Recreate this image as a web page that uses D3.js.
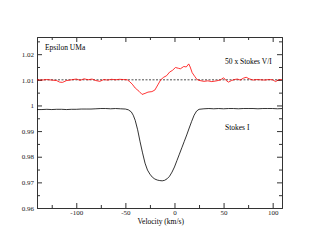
<!DOCTYPE html>
<html>
<head>
<meta charset="utf-8">
<script src="https://cdn.jsdelivr.net/npm/d3@7"></script>
<style>
  body { margin: 0; background: #fff; }
  svg text { font-family: "Liberation Serif", "DejaVu Serif", serif; }
</style>
</head>
<body>
<div id="chart"></div>
<script>
// Stokes I profile (velocity km/s, normalised intensity)
const velI = [-140, -135, -130, -125, -120, -115, -110, -105, -100, -95, -90, -85, -80, -75, -70, -65, -60, -55, -50, -47, -44, -42, -40, -37.5, -35, -32.5, -30, -27.5, -25, -22.5, -20, -17.5, -15, -12.5, -10, -7.5, -5, -2.5, 0, 2.5, 5, 7.5, 10, 12.5, 15, 17.5, 20, 22.5, 25, 30, 35, 40, 45, 50, 55, 60, 65, 70, 75, 80, 85, 90, 95, 100, 105, 110];
const stokesI = [0.9984, 0.9984, 0.9985, 0.9984, 0.9985, 0.9985, 0.9984, 0.9985, 0.9985, 0.9986, 0.9986, 0.9986, 0.9987, 0.9988, 0.9988, 0.9987, 0.9988, 0.9987, 0.9986, 0.9983, 0.9975, 0.9962, 0.9942, 0.9905, 0.9858, 0.9815, 0.9775, 0.9748, 0.9732, 0.9720, 0.9713, 0.9709, 0.9707, 0.9706, 0.9708, 0.9714, 0.9724, 0.9740, 0.9760, 0.9785, 0.9810, 0.9835, 0.9860, 0.9885, 0.9912, 0.9938, 0.9962, 0.9978, 0.9985, 0.9987, 0.9988, 0.9987, 0.9988, 0.9987, 0.9988, 0.9988, 0.9987, 0.9988, 0.9988, 0.9988, 0.9987, 0.9988, 0.9988, 0.9988, 0.9987, 0.9988];

// 50 x Stokes V/I, offset to 1.01
const velV = [-140, -135, -130, -125, -120, -117, -114, -110, -105, -100, -96, -92, -88, -84, -80, -76, -72, -68, -64, -60, -56, -52, -48, -46, -43, -40, -36, -33, -30, -27, -23, -20, -17, -14, -11, -8, -5, -2, 1, 4, 6, 9.5, 12, 14.5, 16, 18, 20.5, 23, 26, 30, 34, 38, 43, 47, 50, 53, 55, 58, 61, 64, 67, 70, 73, 76, 80, 84, 88, 92, 96, 100, 103, 106, 110];
const stokesV = [1.0100, 1.0099, 1.0101, 1.0099, 1.0097, 1.0091, 1.0090, 1.0097, 1.0100, 1.0103, 1.0098, 1.0104, 1.0100, 1.0103, 1.0097, 1.0094, 1.0101, 1.0099, 1.0102, 1.0100, 1.0102, 1.0101, 1.0100, 1.0094, 1.0083, 1.0068, 1.0055, 1.0043, 1.0047, 1.0052, 1.0054, 1.0060, 1.0080, 1.0100, 1.0110, 1.0116, 1.0130, 1.0137, 1.0148, 1.0145, 1.0143, 1.0152, 1.0150, 1.0162, 1.0150, 1.0128, 1.0114, 1.0101, 1.0097, 1.0094, 1.0096, 1.0093, 1.0096, 1.0100, 1.0108, 1.0096, 1.0091, 1.0097, 1.0101, 1.0103, 1.0099, 1.0106, 1.0110, 1.0104, 1.0099, 1.0101, 1.0100, 1.0099, 1.0101, 1.0100, 1.0093, 1.0100, 1.0101];

const xTicks = [-100, -50, 0, 50, 100];
const yTicks = [0.96, 0.97, 0.98, 0.99, 1.00, 1.01, 1.02];
const xDomain = [-140, 109.5];
const yDomain = [0.96, 1.0267];
const refLevel = 1.01;

// Dimensions
const W = 317, H = 245;
const margin = { top: 37, right: 35, bottom: 37, left: 37 };
const width = W - margin.left - margin.right;
const height = H - margin.top - margin.bottom;

const svg = d3.select("#chart")
    .append("svg")
    .attr("width", W)
    .attr("height", H)
    .append("g")
    .attr("transform", `translate(${margin.left},${margin.top})`);

const x = d3.scaleLinear().domain(xDomain).range([0, width]);
const y = d3.scaleLinear().domain(yDomain).range([height, 0]);

const axisColor = "#333";
const xMinor = d3.range(-125, 110, 25).filter(v => !xTicks.includes(v));
const yMinor = d3.range(0.965, 1.026, 0.01).map(v => +v.toFixed(3));

function styleAxis(g) {
    g.selectAll("path").attr("stroke", axisColor);
    g.selectAll("line").attr("stroke", axisColor);
    g.selectAll("text").style("font-size", "7px").attr("fill", "#222");
}

// major ticks (inside) with labels
svg.append("g")
    .attr("transform", `translate(0,${height})`)
    .call(d3.axisBottom(x).tickValues(xTicks).tickSizeInner(-5).tickSizeOuter(0).tickPadding(2).tickFormat(d => String(d)))
    .call(styleAxis);
svg.append("g")
    .call(d3.axisLeft(y).tickValues(yTicks).tickSizeInner(-5).tickSizeOuter(0).tickPadding(3).tickFormat(d => String(+d.toFixed(2))))
    .call(styleAxis);
svg.append("g")
    .call(d3.axisTop(x).tickValues(xTicks).tickSizeInner(-5).tickSizeOuter(0).tickFormat(""))
    .call(styleAxis);
svg.append("g")
    .attr("transform", `translate(${width},0)`)
    .call(d3.axisRight(y).tickValues(yTicks).tickSizeInner(-5).tickSizeOuter(0).tickFormat(""))
    .call(styleAxis);

// minor ticks
svg.append("g").attr("transform", `translate(0,${height})`)
    .call(d3.axisBottom(x).tickValues(xMinor).tickSizeInner(-3).tickSizeOuter(0).tickFormat(""))
    .call(styleAxis);
svg.append("g")
    .call(d3.axisTop(x).tickValues(xMinor).tickSizeInner(-3).tickSizeOuter(0).tickFormat(""))
    .call(styleAxis);
svg.append("g")
    .call(d3.axisLeft(y).tickValues(yMinor).tickSizeInner(-3).tickSizeOuter(0).tickFormat(""))
    .call(styleAxis);
svg.append("g").attr("transform", `translate(${width},0)`)
    .call(d3.axisRight(y).tickValues(yMinor).tickSizeInner(-3).tickSizeOuter(0).tickFormat(""))
    .call(styleAxis);

// clip
svg.append("clipPath").attr("id", "clip")
    .append("rect").attr("width", width).attr("height", height);
const plot = svg.append("g").attr("clip-path", "url(#clip)");

// dashed reference line
plot.append("line")
    .attr("x1", x(xDomain[0])).attr("x2", x(xDomain[1]))
    .attr("y1", y(refLevel)).attr("y2", y(refLevel))
    .attr("stroke", "#000")
    .attr("stroke-width", 0.7)
    .attr("stroke-dasharray", "2,1.5");

const line = d3.line().x(d => x(d[0])).y(d => y(d[1]));

plot.append("path")
    .datum(velI.map((v, i) => [v, stokesI[i]]))
    .attr("d", line)
    .attr("fill", "none")
    .attr("stroke", "#000")
    .attr("stroke-width", 0.8);

plot.append("path")
    .datum(velV.map((v, i) => [v, stokesV[i]]))
    .attr("d", line)
    .attr("fill", "none")
    .attr("stroke", "#f00")
    .attr("stroke-width", 0.8);

// labels
svg.append("text")
    .attr("x", 8).attr("y", 13)
    .style("font-size", "7.5px")
    .text("Epsilon UMa");

svg.append("text")
    .attr("x", 188).attr("y", 26.5)
    .style("font-size", "7.5px")
    .text("50 x Stokes V/I");

svg.append("text")
    .attr("x", 188).attr("y", 93)
    .style("font-size", "7.5px")
    .text("Stokes I");

svg.append("text")
    .attr("x", x(-14)).attr("y", height + 15.5)
    .attr("text-anchor", "middle")
    .style("font-size", "7.5px")
    .text("Velocity (km/s)");
</script>
</body>
</html>
